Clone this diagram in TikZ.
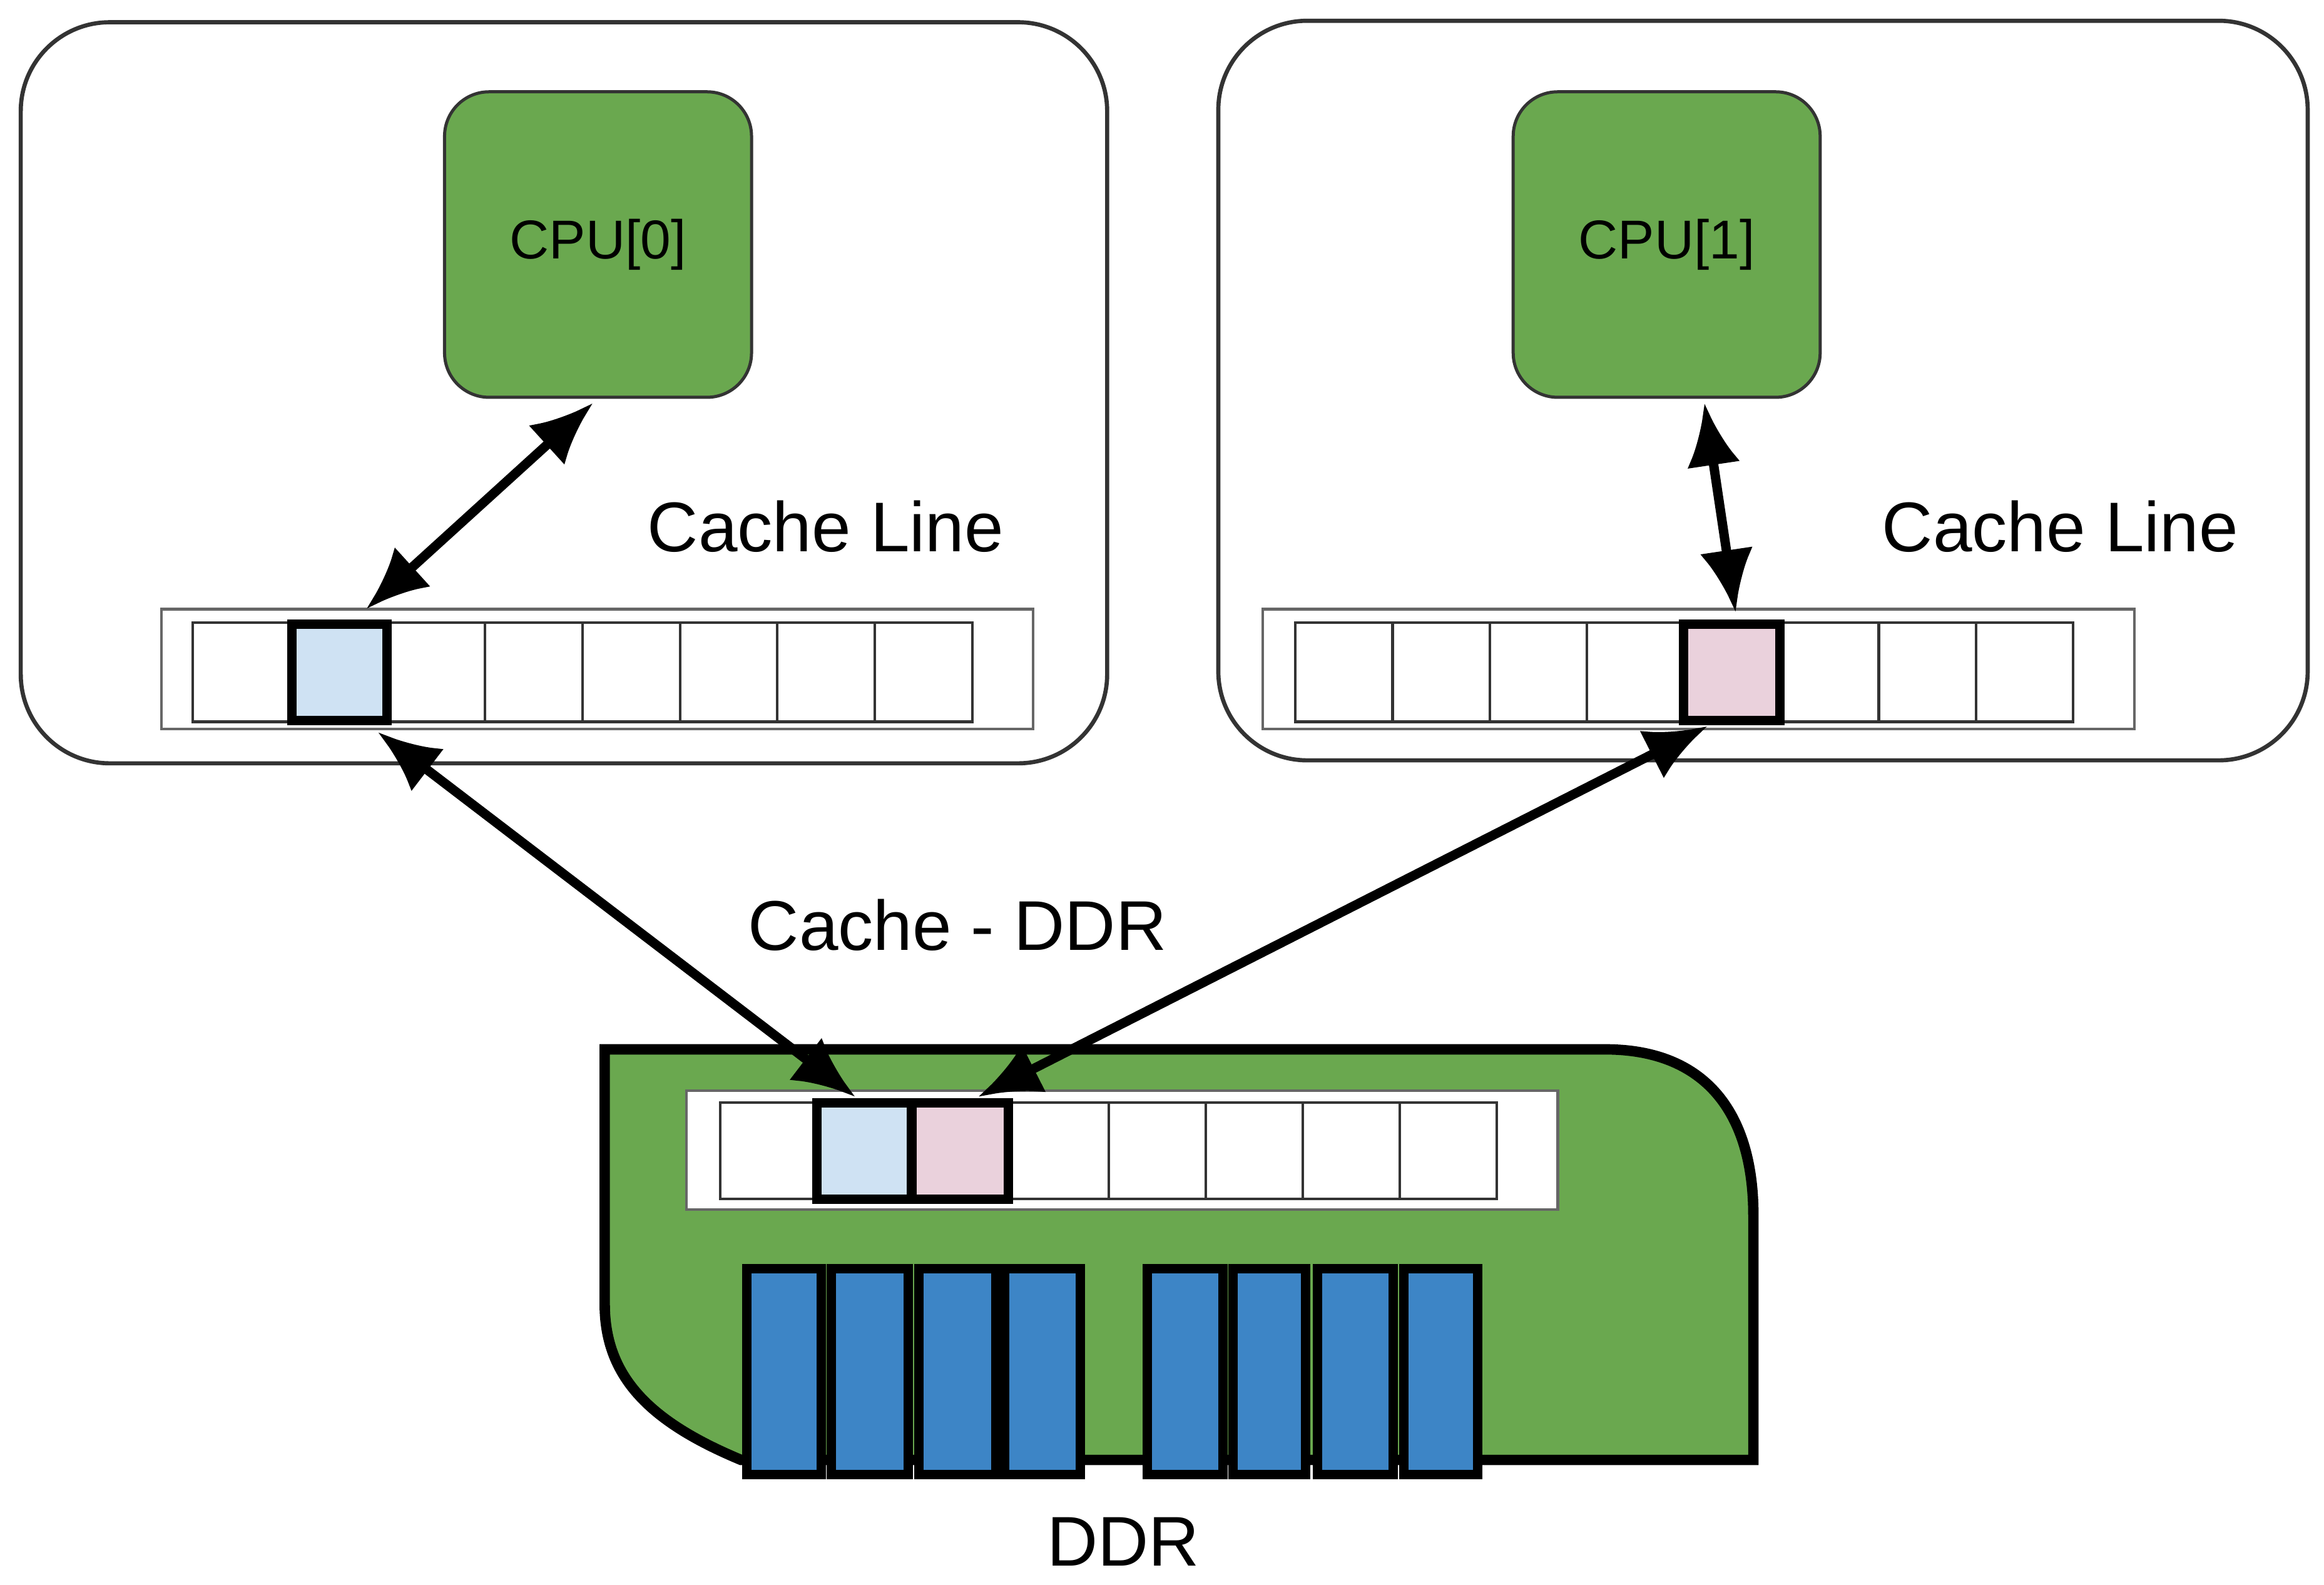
\documentclass[tikz,border=0pt]{standalone}
\usepackage{fontspec}
\setmainfont{Liberation Sans}
\usetikzlibrary{arrows.meta}
\definecolor{grn}{HTML}{6AA84F}
\definecolor{lblue}{HTML}{CFE2F3}
\definecolor{lpink}{HTML}{EAD1DC}
\definecolor{chip}{HTML}{3D85C6}
\tikzset{
 outer/.style={draw=black!80,line width=0.8pt,rounded corners=0.6cm},
 cpu/.style={draw=black!80,fill=grn,line width=0.6pt,rounded corners=0.3cm},
 strip/.style={draw=black!60,fill=white,line width=0.5pt},
 cell/.style={draw=black!80,fill=white,line width=0.5pt},
 hot/.style={draw=black,line width=1.8pt},
 chipbox/.style={draw=black,fill=chip,line width=1.8pt},
 arr/.style={{Latex[length=0.42cm,width=0.36cm]}-{Latex[length=0.42cm,width=0.36cm]},line width=1.8pt},
 big/.style={font=\fontsize{13.5}{16}\selectfont},
}
\begin{document}
\begin{tikzpicture}[x=0.01cm,y=-0.01cm]
\useasboundingbox (0,0) rectangle (1568,1069);
\draw[outer] (14,15) rectangle (747,515);
\draw[outer] (822,14) rectangle (1557,513);
\node[cpu,minimum width=2.07cm,minimum height=2.06cm,font=\fontsize{10.5}{12}\selectfont] (c0) at (403.5,165) {CPU[0]};
\node[cpu,minimum width=2.07cm,minimum height=2.06cm,font=\fontsize{10.5}{12}\selectfont] (c1) at (1124.5,165) {CPU[1]};
\node[big] (t0) at (557,355) {Cache Line};
\node[big] (t1) at (1390,355) {Cache Line};
% strips
\draw[strip] (109,411) rectangle (697,492);
\draw[strip] (852,411) rectangle (1440,492);
\draw[strip] (463,736) rectangle (1051,816);
\foreach \i in {0,...,7}{
 \draw[cell] ({130+\i*65.75},420) rectangle ({130+(\i+1)*65.75},487);
 \draw[cell] ({874+\i*65.6},420) rectangle ({874+(\i+1)*65.6},487);
}
% DDR board
\draw[fill=grn,line width=2pt] (408,708) -- (1083,708) .. controls (1150,708) and (1183,750) .. (1183,820) -- (1183,985) -- (500,985) .. controls (440,960) and (408,930) .. (408,880) -- cycle;
\draw[strip] (463,736) rectangle (1051,816);
\foreach \i in {0,...,7}{
 \draw[cell] ({486+\i*65.5},744) rectangle ({486+(\i+1)*65.5},809);
}
\node[hot,fill=lblue,minimum width=0.64cm,minimum height=0.65cm,inner sep=0pt] (a0) at (229,453.5) {};
\node[hot,fill=lpink,minimum width=0.65cm,minimum height=0.65cm,inner sep=0pt] (a1) at (1168.5,453.5) {};
\node[hot,fill=lblue,minimum width=0.64cm,minimum height=0.65cm,inner sep=0pt] (d0) at (583,776.5) {};
\node[hot,fill=lpink,minimum width=0.65cm,minimum height=0.65cm,inner sep=0pt] (d1) at (648,776.5) {};
\foreach \a/\b [count=\k] in {504/554,561/613,620/672,678/729,774/825,832/881,889/940,947/997}{
 \draw[chipbox] (\a,856) rectangle (\b,995);
}
\node[big] (ddr) at (758,1040) {DDR};
\node[big] (cd) at (646,624) {Cache - DDR};
% arrows
\draw[arr] (a0.north east)++(-17,-7) coordinate(p0) -- (400,272) coordinate (q0);
\draw[arr] (1171,413) -- (1150,272);
\draw[arr] (255,494) -- (577,740);
\draw[arr] (1152,490) -- (660,740);
\end{tikzpicture}
\end{document}
